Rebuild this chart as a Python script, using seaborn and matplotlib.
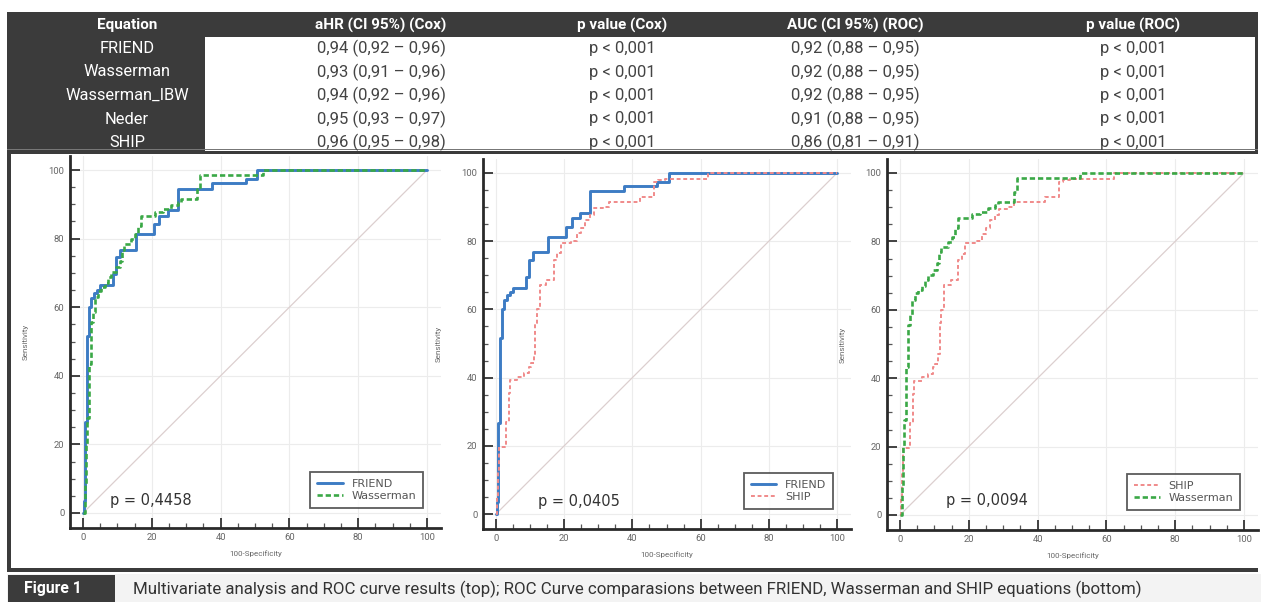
import numpy as np
import pandas as pd
import matplotlib
matplotlib.use("Agg")
import matplotlib.pyplot as plt
from matplotlib.patches import Rectangle
from matplotlib.ticker import MultipleLocator
import seaborn as sns

# ---------------- data ----------------
headers = ["Equation", "aHR (CI 95%) (Cox)", "p value (Cox)", "AUC (CI 95%) (ROC)", "p value (ROC)"]
equations = ["FRIEND", "Wasserman", "Wasserman_IBW", "Neder", "SHIP"]
ahr_cox = ["0,94 (0,92 – 0,96)", "0,93 (0,91 – 0,96)", "0,94 (0,92 – 0,96)",
           "0,95 (0,93 – 0,97)", "0,96 (0,95 – 0,98)"]
p_cox = ["p < 0,001", "p < 0,001", "p < 0,001", "p < 0,001", "p < 0,001"]
auc_roc = ["0,92 (0,88 – 0,95)", "0,92 (0,88 – 0,95)", "0,92 (0,88 – 0,95)",
           "0,91 (0,88 – 0,95)", "0,86 (0,81 – 0,91)"]
p_roc = ["p < 0,001", "p < 0,001", "p < 0,001", "p < 0,001", "p < 0,001"]

friend_fpr = [0, 0.3, 0.6, 1.2, 1.8, 2.2, 3.3, 4.2, 5.0, 8.8, 9.6, 10.8, 15.3, 20.5,
              22.2, 24.7, 27.6, 37.5, 47.3, 50.7, 100]
friend_tpr = [0, 3.5, 26.6, 51.5, 60.0, 62.8, 64.2, 65.0, 66.4, 69.6, 74.5, 76.7, 81.3, 84.3,
              86.7, 88.2, 94.6, 96.3, 97.5, 100, 100]

wass_fpr = [0, 0.5, 1.0, 1.3, 1.6, 2.2, 2.9, 3.6, 4.4, 5.3, 6.3, 7.3, 8.2, 9.7, 10.7, 11.4,
            11.9, 14.0, 15.0, 16.0, 17.0, 20.8, 23.3, 25.7, 27.6, 28.6, 33.0, 33.9, 52.3, 100]
wass_tpr = [0, 8.3, 20.0, 27.8, 43.4, 55.6, 58.5, 62.9, 64.8, 65.8, 67.1, 68.7, 70.2, 71.6,
            73.6, 76.8, 78.5, 79.9, 81.4, 83.8, 86.7, 87.9, 88.7, 89.9, 90.6, 91.6, 94.5, 98.4,
            100, 100]

ship_fpr = [0, 0.3, 0.7, 1.0, 2.5, 3.0, 3.7, 4.2, 6.3, 8.2, 9.6, 10.2, 11.0, 11.5, 12.0, 12.8,
            14.8, 17.0, 18.0, 19.0, 22.0, 23.7, 25.0, 26.2, 27.6, 28.8, 31.5, 33.0, 42.2, 46.3,
            47.5, 49.5, 62.3, 100]
ship_tpr = [0, 5.0, 13.0, 19.7, 20.5, 27.0, 35.4, 39.3, 40.3, 41.3, 43.2, 44.2, 47.0, 56.0,
            60.0, 67.2, 68.6, 74.5, 76.4, 79.4, 80.0, 82.3, 83.8, 86.2, 87.7, 89.6, 90.1, 91.6,
            93.1, 97.5, 98.0, 98.3, 100, 100]

diag = [0, 100]

panel_pairs = [("FRIEND", "Wasserman"), ("FRIEND", "SHIP"), ("SHIP", "Wasserman")]
panel_pvalues = ["p = 0,4458", "p = 0,0405", "p = 0,0094"]
caption_tag = "Figure 1"
caption = ("Multivariate analysis and ROC curve results (top); ROC Curve comparasions between "
           "FRIEND, Wasserman and SHIP equations (bottom)")

curves = {
    "FRIEND": pd.DataFrame({"fpr": friend_fpr, "tpr": friend_tpr}),
    "Wasserman": pd.DataFrame({"fpr": wass_fpr, "tpr": wass_tpr}),
    "SHIP": pd.DataFrame({"fpr": ship_fpr, "tpr": ship_tpr}),
}
styles = {
    "FRIEND": dict(color="#3d7cc4", linewidth=2.1, linestyle="-"),
    "Wasserman": dict(color="#3aa846", linewidth=1.9, linestyle=(0, (2.0, 1.1))),
    "SHIP": dict(color="#f08a8a", linewidth=1.4, linestyle=(0, (2.0, 1.4))),
}

# ---------------- figure ----------------
sns.set_theme(style="white")
plt.rcParams["font.family"] = ["Roboto", "DejaVu Sans"]

W, H = 1261, 602
fig = plt.figure(figsize=(W / 100, H / 100), dpi=100)
fig.patch.set_facecolor("white")


def rect(l, t, w, h, **kw):
    r = Rectangle((l / W, 1 - (t + h) / H), w / W, h / H, transform=fig.transFigure, **kw)
    fig.add_artist(r)
    return r


def ftext(px, py, s, **kw):
    fig.text(px / W, 1 - py / H, s, **kw)


DARK = "#3b3b3b"
CELL = "#444444"

# table
rect(7, 12, 1251, 141, facecolor="white", edgecolor="none", zorder=0)
rect(7, 12, 1251, 25, facecolor=DARK, edgecolor="none", zorder=1)
rect(7, 12, 198, 141, facecolor=DARK, edgecolor="none", zorder=1)
rect(1255, 12, 3, 141, facecolor=DARK, edgecolor="none", zorder=1)
rect(7, 149, 1251, 1.2, facecolor="#777777", edgecolor="none", zorder=1)
rect(7, 151, 1251, 3, facecolor=DARK, edgecolor="none", zorder=1)

col_x = [127, 381, 622, 855, 1133]
row_y = [48.5, 72, 95.5, 119, 142.5]
for cx, hd in zip(col_x, headers):
    ftext(cx, 25, hd, ha="center", va="center", fontsize=11, fontweight="bold", color="white")
for i in range(len(equations)):
    ftext(col_x[0], row_y[i], equations[i], ha="center", va="center", fontsize=11.8, color="white")
    ftext(col_x[1], row_y[i], ahr_cox[i], ha="center", va="center", fontsize=12, color=CELL)
    ftext(col_x[2], row_y[i], p_cox[i], ha="center", va="center", fontsize=12, color=CELL)
    ftext(col_x[3], row_y[i], auc_roc[i], ha="center", va="center", fontsize=12, color=CELL)
    ftext(col_x[4], row_y[i], p_roc[i], ha="center", va="center", fontsize=12, color=CELL)

# frame around plot region and caption band
rect(7, 153, 4, 419, facecolor=DARK, edgecolor="none", zorder=1)
rect(7, 568, 1251, 4, facecolor=DARK, edgecolor="none", zorder=1)
rect(7, 574, 1254, 28, facecolor="#f3f3f3", edgecolor="none", zorder=0)
rect(8, 575, 107, 27, facecolor=DARK, edgecolor="none", zorder=1)
ftext(24, 589, caption_tag, ha="left", va="center", fontsize=11.3, fontweight="bold", color="white")
ftext(133, 589, caption, ha="left", va="center", fontsize=12.2, color="#333333")

# ---------------- ROC panels ----------------
xlim = (-3.8, 104)
ylim = (-4.3, 104)
panel_origin = [(83, 513, 3.44, 3.43), (496, 514, 3.41, 3.41), (900, 515, 3.44, 3.42)]

for k, ((a, b), ptxt) in enumerate(zip(panel_pairs, panel_pvalues)):
    x0, y0, sx, sy = panel_origin[k]
    left = x0 + xlim[0] * sx
    right = x0 + xlim[1] * sx
    bottom = y0 - ylim[0] * sy
    top = y0 - ylim[1] * sy
    ax = fig.add_axes([left / W, 1 - bottom / H, (right - left) / W, (bottom - top) / H])
    ax.set_facecolor("white")
    ax.set_xlim(*xlim)
    ax.set_ylim(*ylim)
    ax.grid(True, which="major", color="#ececec", linewidth=0.8)
    sns.lineplot(x=diag, y=diag, ax=ax, color="#dccfcf", linewidth=0.9)
    for name in (a, b):
        df = curves[name]
        sns.lineplot(data=df, x="fpr", y="tpr", ax=ax, sort=False, estimator=None,
                     drawstyle="steps-post", label=name, **styles[name])
    ax.set_xticks(range(0, 101, 20))
    ax.set_yticks(range(0, 101, 20))
    ax.xaxis.set_minor_locator(MultipleLocator(5))
    ax.yaxis.set_minor_locator(MultipleLocator(5))
    ax.tick_params(which="major", direction="in", length=7, width=1.3, color="#333333",
                   labelsize=6.8, labelcolor="#666666", pad=4)
    ax.tick_params(which="minor", direction="in", length=3.5, width=0.9, color="#555555")
    ax.tick_params(axis="x", which="both", bottom=True)
    ax.tick_params(axis="y", which="both", left=True)
    for s in ("top", "right"):
        ax.spines[s].set_visible(False)
    for s in ("left", "bottom"):
        ax.spines[s].set_linewidth(2.0)
        ax.spines[s].set_color("#2a2a2a")
    ax.set_xlabel("100-Specificity", fontsize=5.8, color="#666666", labelpad=6)
    ax.set_ylabel("Sensitivity", fontsize=5.8, color="#666666", labelpad=14)
    ax.text([7.8, 12.4, 13.4][k], [3.5, 3.7, 4.3][k], ptxt, fontsize=10.5, color="#333333",
            ha="left", va="center", family=["DejaVu Sans"])
    leg = ax.legend(loc="lower right", bbox_to_anchor=(98.8, 1.5), bbox_transform=ax.transData,
                    frameon=True, fancybox=False, edgecolor="#333333",
                    handlelength=2.3, borderpad=0.6, labelspacing=0.2, borderaxespad=0,
                    handletextpad=0.8, prop={"family": ["DejaVu Sans"], "size": 8})
    leg.get_frame().set_linewidth(1.3)
    for t in leg.get_texts():
        t.set_color("#555555")

fig.savefig("out.png", dpi=100, facecolor="white")
